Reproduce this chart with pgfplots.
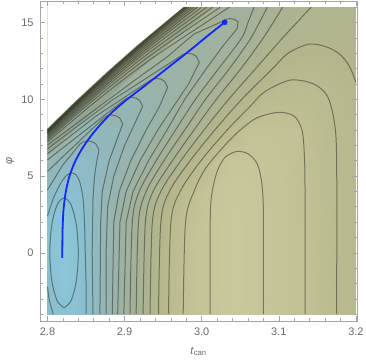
\documentclass[border=0pt]{standalone}
\usepackage{fontspec}
\setmainfont{Liberation Sans}
\usepackage{pgfplots}
\pgfplotsset{compat=1.18}
\definecolor{lineC}{RGB}{45,50,35}
\definecolor{tickC}{RGB}{105,105,105}
\definecolor{frameC}{RGB}{165,165,165}
\definecolor{pathC}{RGB}{20,40,250}
\definecolor{darkband}{RGB}{70,70,50}
\begin{document}
\begin{tikzpicture}
\begin{axis}[
  scale only axis, width=317bp, height=320bp,
  xmin=2.7903, xmax=3.2014, ymin=-4.44, ymax=16.40,
  axis on top,
  xtick={2.8,2.9,3.0,3.1,3.2}, xticklabels={2.8,2.9,3.0,3.1,3.2},
  minor xtick={2.82,2.84,2.86,2.88,2.92,2.94,2.96,2.98,3.02,3.04,3.06,3.08,3.12,3.14,3.16,3.18},
  ytick={0,5,10,15}, yticklabels={0,5,10,15},
  minor ytick={-4,-3,-2,-1,1,2,3,4,6,7,8,9,11,12,13,14,16},
  major tick length=5bp, minor tick length=3bp,
  tick style={frameC, line width=0.6bp},
  axis line style={frameC, line width=0.6bp},
  ticklabel style={font=\fontsize{11}{13}\selectfont, text=tickC},
  xticklabel style={yshift=-3bp},
  yticklabel style={xshift=-3bp},
  xlabel={\textit{t}\textsubscript{can}},
  ylabel={\textit{φ}},
  label style={font=\fontsize{11}{13}\selectfont, text=tickC},
  xlabel style={yshift=-5bp},
  colormap={lvl}{rgb255(0pt)=(140,199,219) rgb255(1.5pt)=(138,192,210) rgb255(4pt)=(146,182,186) rgb255(7pt)=(156,178,166) rgb255(10pt)=(166,177,150) rgb255(13pt)=(180,181,140) rgb255(15pt)=(192,192,148) rgb255(17pt)=(204,203,160)},
  point meta min=0, point meta max=17,
  cl/.style={line width=1bp, draw=lineC, draw opacity=0.52, mark=none},
  cls/.style={cl, smooth, tension=0.5},
]
\addplot[surf, shader=interp, mesh/cols=21, point meta=explicit] table[meta=c] {
x y c
2.80 -4 2.3
2.82 -4 1.15
2.84 -4 1.6
2.86 -4 3.1
2.88 -4 5.5
2.90 -4 8.1
2.92 -4 10.55
2.94 -4 12.65
2.96 -4 14.15
2.98 -4 15.1
3.00 -4 15.7
3.02 -4 16.15
3.04 -4 16.4
3.06 -4 16.35
3.08 -4 16.0
3.10 -4 15.65
3.12 -4 15.3
3.14 -4 14.9
3.16 -4 14.4
3.18 -4 13.9
3.20 -4 13.5

2.80 -2 2.0
2.82 -2 0.35
2.84 -2 1.3
2.86 -2 3.1
2.88 -2 5.5
2.90 -2 8.1
2.92 -2 10.55
2.94 -2 12.65
2.96 -2 14.15
2.98 -2 15.1
3.00 -2 15.7
3.02 -2 16.15
3.04 -2 16.4
3.06 -2 16.35
3.08 -2 16.0
3.10 -2 15.65
3.12 -2 15.3
3.14 -2 14.9
3.16 -2 14.4
3.18 -2 13.9
3.20 -2 13.5

2.80 0 1.1
2.82 0 0.02
2.84 0 1.0
2.86 0 3.1
2.88 0 5.5
2.90 0 8.1
2.92 0 10.55
2.94 0 12.65
2.96 0 14.15
2.98 0 15.1
3.00 0 15.7
3.02 0 16.15
3.04 0 16.4
3.06 0 16.35
3.08 0 16.0
3.10 0 15.65
3.12 0 15.3
3.14 0 14.9
3.16 0 14.4
3.18 0 13.9
3.20 0 13.5

2.80 2 1.4
2.82 2 0.32
2.84 2 1.3
2.86 2 3.05
2.88 2 5.5
2.90 2 8.0
2.92 2 10.2
2.94 2 12.4
2.96 2 14.0
2.98 2 15.0
3.00 2 15.7
3.02 2 16.15
3.04 2 16.4
3.06 2 16.35
3.08 2 16.0
3.10 2 15.65
3.12 2 15.3
3.14 2 14.9
3.16 2 14.4
3.18 2 13.9
3.20 2 13.5

2.80 4 2.95
2.82 4 1.5
2.84 4 1.8
2.86 4 3.0
2.88 4 4.8
2.90 4 6.8
2.92 4 9.1
2.94 4 11.3
2.96 4 13.1
2.98 4 14.45
3.00 4 15.3
3.02 4 16.05
3.04 4 16.35
3.06 4 16.3
3.08 4 16.0
3.10 4 15.6
3.12 4 15.25
3.14 4 14.85
3.16 4 14.35
3.18 4 13.9
3.20 4 13.5

2.80 6 4.95
2.82 6 3.5
2.84 6 2.5
2.86 6 2.8
2.88 6 4.0
2.90 6 5.5
2.92 6 7.0
2.94 6 8.9
2.96 6 10.8
2.98 6 12.6
3.00 6 14.05
3.02 6 15.3
3.04 6 16.05
3.06 6 16.1
3.08 6 15.8
3.10 6 15.5
3.12 6 15.2
3.14 6 14.85
3.16 6 14.35
3.18 6 13.9
3.20 6 13.5

2.80 8 10
2.82 8 8.3
2.84 8 5.9
2.86 8 3.6
2.88 8 3.8
2.90 8 4.4
2.92 8 5.5
2.94 8 6.8
2.96 8 8.5
2.98 8 10.2
3.00 8 11.8
3.02 8 13.2
3.04 8 14.4
3.06 8 15.2
3.08 8 15.4
3.10 8 15.4
3.12 8 15.25
3.14 8 14.8
3.16 8 14.3
3.18 8 13.9
3.20 8 13.5

2.80 10 10
2.82 10 10
2.84 10 10
2.86 10 9.25
2.88 10 7.85
2.90 10 5.0
2.92 10 5.1
2.94 10 5.6
2.96 10 6.45
2.98 10 8.0
3.00 10 9.6
3.02 10 11.05
3.04 10 12.3
3.06 10 13.4
3.08 10 14.2
3.10 10 14.4
3.12 10 14.4
3.14 10 14.35
3.16 10 14.05
3.18 10 13.7
3.20 10 13.4

2.80 12 11
2.82 12 11
2.84 12 11
2.86 12 11
2.88 12 11
2.90 12 11.1
2.92 12 8.65
2.94 12 7.65
2.96 12 6.5
2.98 12 6.8
3.00 12 7.5
3.02 12 8.9
3.04 12 10.3
3.06 12 11.5
3.08 12 12.45
3.10 12 13.2
3.12 12 13.5
3.14 12 13.6
3.16 12 13.5
3.18 12 13.3
3.20 12 12.8

2.80 14 12
2.82 14 12
2.84 14 12
2.86 14 12
2.88 14 12
2.90 14 12
2.92 14 12
2.94 14 11
2.96 14 9.6
2.98 14 8.55
3.00 14 7.6
3.02 14 7.6
3.04 14 7.95
3.06 14 9.7
3.08 14 11.0
3.10 14 11.85
3.12 14 12.3
3.14 14 12.6
3.16 14 12.7
3.18 14 12.6
3.20 14 12.4

2.80 16 12
2.82 16 12
2.84 16 12
2.86 16 12
2.88 16 12
2.90 16 12
2.92 16 12
2.94 16 12
2.96 16 12
2.98 16 12
3.00 16 11.7
3.02 16 9.5
3.04 16 8.7
3.06 16 8.45
3.08 16 9.7
3.10 16 10.75
3.12 16 11.4
3.14 16 11.95
3.16 16 12.2
3.18 16 12.3
3.20 16 12.3
};
% darkening bands along the domain boundary
\addplot[draw=none, fill=darkband, fill opacity=0.12] coordinates {(2.8,8.11) (2.8335,9.76) (2.8768,11.776) (2.9157,13.50) (2.9757,16.0) (3.0146,16) (2.9478,13.163) (2.9033,11.210) (2.8599,9.204) (2.8,6.364)};
\addplot[draw=none, fill=darkband, fill opacity=0.18] coordinates {(2.8,8.11) (2.8335,9.76) (2.8768,11.776) (2.9157,13.50) (2.9757,16.0) (2.9952,16) (2.9391,13.647) (2.8947,11.694) (2.8512,9.688) (2.8,7.239)};
\addplot[draw=none, fill=darkband, fill opacity=0.28] coordinates {(2.8,8.11) (2.8335,9.76) (2.8768,11.776) (2.9157,13.50) (2.9757,16.0) (2.9836,16) (2.9339,13.938) (2.8895,11.985) (2.8460,9.979) (2.8,7.763)};
% contour lines: valley levels
\addplot[cls] coordinates {(2.8215,-3.58) (2.8308,-3.10) (2.8375,-1.79) (2.8400,0) (2.8375,1.79) (2.8308,3.10) (2.8215,3.58) (2.8123,3.10) (2.8055,1.79) (2.8030,0) (2.8055,-1.79) (2.8123,-3.10) (2.8215,-3.58)};
\addplot[cl, smooth, tension=0.4] coordinates {(2.800,2.40) (2.808,3.6) (2.818,4.6) (2.825,5.05) (2.831,5.20) (2.837,5.08) (2.842,4.6) (2.846,3.6) (2.848,2.0) (2.849,0) (2.850,-2) (2.850,-4)};
\addplot[cls] coordinates {(2.800,-2.2) (2.8025,-3.1) (2.8075,-4)};
\addplot[cl] coordinates {(2.8,4.1) (2.8195,5.693) (2.8422,7.085) (2.8470,7.235) (2.8525,7.287) (2.8581,7.235) (2.8629,7.085) (2.8668,6.701) (2.864,6) (2.861,5) (2.859,3.5) (2.858,0) (2.859,-4)};
\addplot[cl] coordinates {(2.8,5.3) (2.8364,7.040) (2.8729,8.777) (2.8777,8.926) (2.8833,8.978) (2.8889,8.926) (2.8937,8.776) (2.8976,8.392) (2.891,7.5) (2.880,6) (2.871,4) (2.869,2) (2.868,-4)};
\addplot[cl] coordinates {(2.8,6.052) (2.8494,7.990) (2.8988,9.928) (2.9036,10.078) (2.9092,10.130) (2.9148,10.078) (2.9196,9.928) (2.9235,9.544) (2.914,8.5) (2.900,7) (2.886,5) (2.878,3) (2.876,0) (2.876,-4)};
\addplot[cl] coordinates {(2.8,6.45) (2.8642,8.946) (2.9313,11.165) (2.9361,11.314) (2.9416,11.366) (2.9472,11.314) (2.9520,11.164) (2.9559,10.780) (2.945,9.5) (2.928,8) (2.908,6) (2.893,4) (2.886,2) (2.884,-4)};
\addplot[cl] coordinates {(2.8,6.78) (2.8843,9.955) (2.9722,12.791) (2.9770,12.941) (2.9826,12.993) (2.9882,12.941) (2.9930,12.791) (2.9969,12.407) (2.983,11) (2.963,9.5) (2.943,8) (2.920,6) (2.902,4) (2.894,2) (2.891,-4)};
\addplot[cl] coordinates {(2.8,7.02) (2.9109,11.158) (2.955,12.75) (2.99,14.25) (3.0263,15.055) (3.0311,15.205) (3.0367,15.257) (3.0423,15.205) (3.0471,15.055) (3.046,14.6) (3.028,13.5) (3.006,12) (2.978,10) (2.955,8) (2.931,6) (2.911,4) (2.902,2) (2.899,-4)};
% right-hand families
\addplot[cls] coordinates {(2.907,-4) (2.910,2) (2.919,4) (2.941,6) (2.966,8) (2.992,10) (3.022,12) (3.052,14) (3.060,15) (3.068,16)};
\addplot[cls] coordinates {(2.915,-4) (2.918,2) (2.928,4) (2.951,6) (2.978,8) (3.005,10) (3.036,12) (3.064,14) (3.085,16)};
\addplot[cls] coordinates {(2.924,-4) (2.927,2) (2.937,4) (2.962,6) (2.990,8) (3.019,10) (3.051,12) (3.080,14) (3.105,16)};
\addplot[cls] coordinates {(2.933,-4) (2.936,2) (2.947,4) (2.973,6) (3.003,8) (3.035,10) (3.070,12) (3.105,14) (3.142,16)};
\addplot[cls] coordinates {(2.944,-4) (2.947,2) (2.958,4) (2.985,6) (3.017,8) (3.052,10) (3.092,12) (3.112,13) (3.140,13.6) (3.165,13.35) (3.182,12.8) (3.193,12.0) (3.200,11.1)};
\addplot[cls] coordinates {(2.957,-4) (2.960,2) (2.972,4) (2.999,6) (3.033,8) (3.062,9.5) (3.082,10.5) (3.115,11.25) (3.145,11.0) (3.163,10.2) (3.172,8.5) (3.175,6) (3.175,-4)};
\addplot[cls] coordinates {(2.976,-4) (2.979,2) (2.990,4) (3.005,5.5) (3.030,7) (3.050,8) (3.072,8.8) (3.100,9.15) (3.120,8.9) (3.130,8.0) (3.133,6.5) (3.134,4) (3.134,-4)};
\addplot[cls] coordinates {(3.011,-4) (3.011,2) (3.013,3.8) (3.020,5.3) (3.030,6.2) (3.045,6.6) (3.060,6.45) (3.072,5.8) (3.078,4.5) (3.080,2.5) (3.080,-4)};
% dense lines along the boundary
\addplot[cls] coordinates {(2.8,7.21) (2.8542,9.519) (2.9006,11.364) (2.9486,13.115) (3.036,16)};
\addplot[cls] coordinates {(2.8,7.36) (2.8522,9.632) (2.8981,11.504) (2.9455,13.290) (3.024,16)};
\addplot[cls] coordinates {(2.8,7.48) (2.8506,9.723) (2.8960,11.619) (2.9429,13.435) (3.0145,16)};
\addplot[cls] coordinates {(2.8,7.58) (2.8492,9.798) (2.8943,11.716) (2.9407,13.561) (3.0065,16)};
\addplot[cls] coordinates {(2.8,7.66) (2.8481,9.860) (2.8928,11.797) (2.9388,13.665) (3.0000,16)};
\addplot[cls] coordinates {(2.8,7.73) (2.8472,9.914) (2.8916,11.868) (2.9371,13.759) (2.9945,16)};
\addplot[cls] coordinates {(2.8,7.79) (2.8463,9.961) (2.8905,11.929) (2.9357,13.839) (2.9900,16)};
\addplot[cls] coordinates {(2.8,7.84) (2.8457,9.998) (2.8896,11.979) (2.9345,13.903) (2.9865,16)};
\addplot[cls] coordinates {(2.8,7.885) (2.8450,10.032) (2.8888,12.023) (2.9335,13.960) (2.9835,16)};
\addplot[cls] coordinates {(2.8,7.925) (2.8445,10.061) (2.8881,12.062) (2.9327,14.008) (2.9810,16)};
\addplot[cls] coordinates {(2.8,7.96) (2.8441,10.086) (2.8876,12.090) (2.9320,14.042) (2.9795,16)};
\addplot[cls] coordinates {(2.8,7.99) (2.8437,10.108) (2.8871,12.117) (2.9315,14.074) (2.9780,16)};
% undefined region
\addplot[draw=none, fill=white] coordinates {(2.8,8.11) (2.8335,9.76) (2.8768,11.776) (2.9157,13.50) (2.9757,16.0) (2.8,16.0)};
% path
\addplot[pathC, line width=1.8bp, smooth, tension=0.5, mark=none] coordinates {(2.8192,-0.325) (2.8195,1.366) (2.8206,2.668) (2.8233,3.839) (2.8279,4.880) (2.8350,5.856) (2.8447,6.766) (2.8564,7.612) (2.8700,8.426) (2.8856,9.239) (2.9031,9.987) (2.9226,10.735) (2.9433,11.548) (2.9647,12.394) (2.9861,13.240) (3.0082,14.151) (3.0298,15.010)};
\addplot[only marks, mark=*, mark size=2.6bp, color=pathC] coordinates {(3.0298,15.010)};
\end{axis}
\pgfresetboundingbox
\path[use as bounding box] ([xshift=-40bp,yshift=-43bp]current axis.south west) rectangle ([xshift=9bp,yshift=1bp]current axis.north east);
\end{tikzpicture}
\end{document}
